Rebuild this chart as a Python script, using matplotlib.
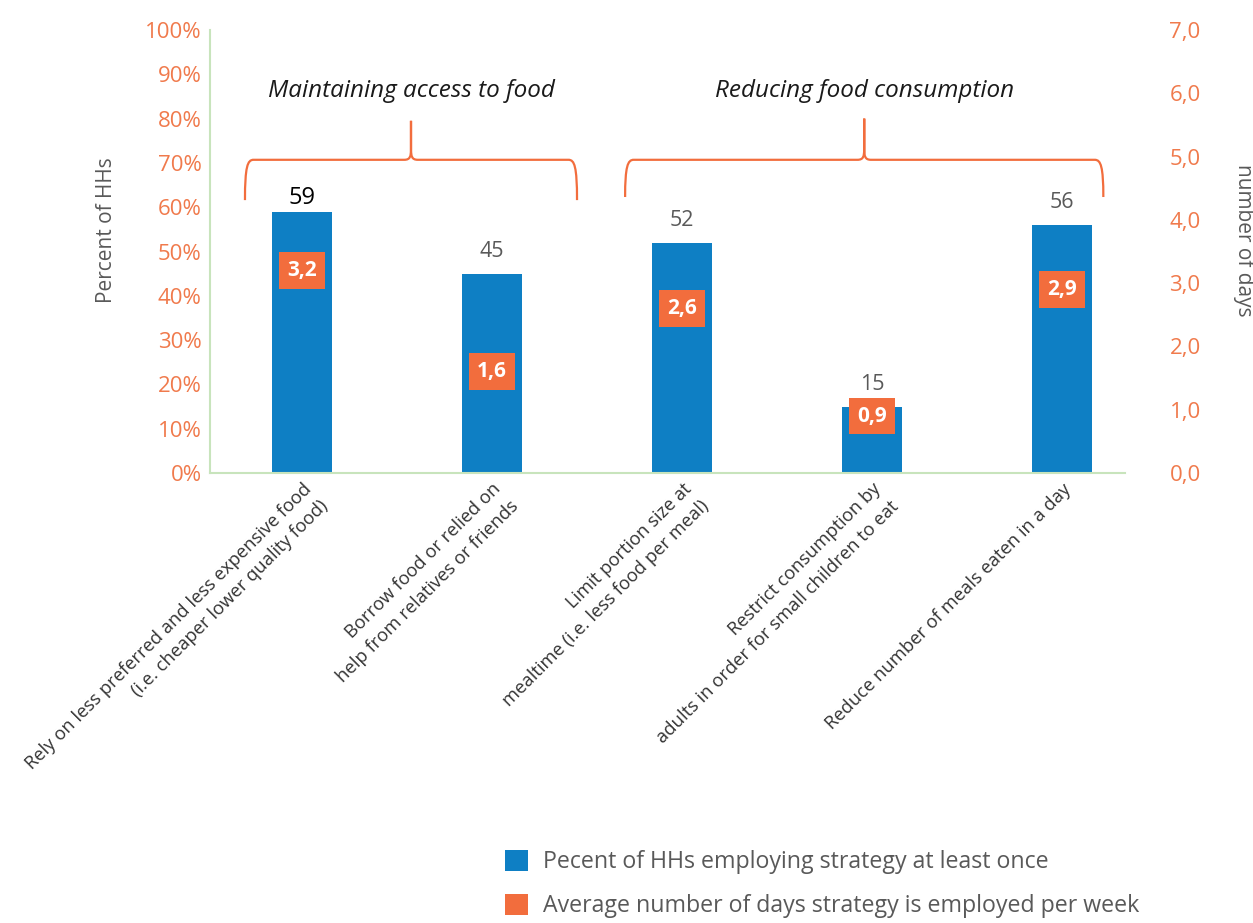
import numpy as np
import matplotlib.pyplot as plt
from matplotlib.patches import Patch
from matplotlib.path import Path
from matplotlib.patches import PathPatch

plt.rcParams['font.family'] = ['Open Sans', 'DejaVu Sans']

# coping strategies
estrategias = [
    'Rely on less preferred and less expensive food\n(i.e. cheaper lower quality food)',
    'Borrow food or relied on\nhelp from relatives or friends',
    'Limit portion size at\nmealtime (i.e. less food per meal)',
    'Restrict consumption by\nadults in order for small children to eat',
    'Reduce number of meals eaten in a day',
]
porcentaje_hogares = [59, 45, 52, 15, 56]
dias_por_semana = [3.2, 1.6, 2.6, 0.9, 2.9]

grupos = ['Maintaining access to food', 'Reducing food consumption']

azul = '#0e7fc4'
naranja = '#f26d3d'
texto_naranja = '#f07a4c'
gris = '#595959'
verde = '#c8e4bc'

fig = plt.figure(figsize=(12.53, 9.23), dpi=100)
ax = fig.add_axes([210 / 1253, 1 - 473 / 923, 915 / 1253, 443 / 923])
ax2 = ax.twinx()

x = np.arange(len(estrategias))
ax.bar(x, porcentaje_hogares, width=0.316, color=azul, zorder=2)

ax.set_xlim(-0.484, 4.33)
ax.set_ylim(0, 100)
ax2.set_ylim(0, 7)

ax.set_yticks(np.arange(0, 101, 10))
ax.set_yticklabels([f'{v}%' for v in range(0, 101, 10)])
ax2.set_yticks(np.arange(0, 8, 1))
ax2.set_yticklabels([f'{v:.1f}'.replace('.', ',') for v in range(8)])

ax.tick_params(axis='y', length=0, pad=6, labelsize=16, labelcolor=texto_naranja)
ax2.tick_params(axis='y', length=0, pad=32, labelsize=16, labelcolor=texto_naranja)
ax.tick_params(axis='x', length=0, pad=5)

ax.set_xticks(x)
ax.set_xticklabels(estrategias, rotation=45, ha='right', va='top',
                   rotation_mode='anchor', fontsize=13.2, color='#333333',
                   multialignment='right', linespacing=1.45)

for s in ['top', 'right']:
    ax.spines[s].set_visible(False)
for s in ['top', 'right', 'left', 'bottom']:
    ax2.spines[s].set_visible(False)
ax.spines['left'].set_color(verde)
ax.spines['bottom'].set_color(verde)
ax.spines['left'].set_linewidth(1.5)
ax.spines['bottom'].set_linewidth(1.5)

ax.set_ylabel('Percent of HHs', fontsize=15, color=gris)
ax.yaxis.set_label_coords(-0.102, 0.549)
ax2.set_ylabel('number of days', fontsize=15, color=gris, rotation=270, va='center')
ax2.yaxis.set_label_coords(1.129, 0.526)

# percentage labels above the bars
for i, v in enumerate(porcentaje_hogares):
    off = 5.5 if i == 0 else 12
    col = 'black' if i == 0 else gris
    ax.annotate(f'{v}', (x[i], v), xytext=(0, off), textcoords='offset points',
                ha='center', va='baseline', fontsize=17 if i == 0 else 15.5, color=col)

# number of days as orange boxes on the right axis
for i, d in enumerate(dias_por_semana):
    ax2.text(x[i], d, f'{d:.1f}'.replace('.', ','), ha='center', va='center',
             fontsize=15, fontweight='bold', color='white', zorder=5,
             bbox=dict(boxstyle='square,pad=0.38', facecolor=naranja, edgecolor='none'))


def llave(ax, x0, x1, y_fin, y_barra, y_punta, dx=0.045, dy=2.5):
    xm = (x0 + x1) / 2
    verts = [
        (x0, y_fin), (x0, y_barra - dy * 0.6), (x0 + dx * 0.3, y_barra), (x0 + dx, y_barra),
        (xm - dx * 0.8, y_barra),
        (xm - dx * 0.1, y_barra), (xm, y_barra + dy * 0.3), (xm, y_barra + dy),
        (xm, y_punta),
        (xm, y_barra + dy),
        (xm, y_barra + dy * 0.3), (xm + dx * 0.1, y_barra), (xm + dx * 0.8, y_barra),
        (x1 - dx, y_barra),
        (x1 - dx * 0.3, y_barra), (x1, y_barra - dy * 0.6), (x1, y_fin),
    ]
    codes = [Path.MOVETO, Path.CURVE4, Path.CURVE4, Path.CURVE4,
             Path.LINETO,
             Path.CURVE4, Path.CURVE4, Path.CURVE4,
             Path.LINETO, Path.LINETO,
             Path.CURVE4, Path.CURVE4, Path.CURVE4,
             Path.LINETO,
             Path.CURVE4, Path.CURVE4, Path.CURVE4]
    ax.add_patch(PathPatch(Path(verts, codes), fill=False, edgecolor=naranja,
                           linewidth=1.6, clip_on=False, zorder=3))
    return xm


xm1 = llave(ax, -0.30, 1.447, 61.6, 70.7, 79.5)
xm2 = llave(ax, 1.70, 4.216, 62.3, 70.7, 80.0)
ax.text(xm1, 86.2, grupos[0], ha='center', va='center', fontsize=17.5,
        style='italic', color='#1a1a1a')
ax.text(xm2, 86.2, grupos[1], ha='center', va='center', fontsize=17.5,
        style='italic', color='#1a1a1a')

handles = [Patch(facecolor=azul, edgecolor='none'),
           Patch(facecolor=naranja, edgecolor='none')]
leg = fig.legend(handles,
                 ['Pecent of HHs employing strategy at least once',
                  'Average number of days strategy is employed per week'],
                 loc='upper left', bbox_to_anchor=(505 / 1253, 1 - 850 / 923),
                 frameon=False, fontsize=16.7, handlelength=1.0, handleheight=1.0,
                 handletextpad=0.65, labelspacing=0.85, borderpad=0, borderaxespad=0)
for t in leg.get_texts():
    t.set_color(gris)

fig.savefig('out.png', dpi=100)
